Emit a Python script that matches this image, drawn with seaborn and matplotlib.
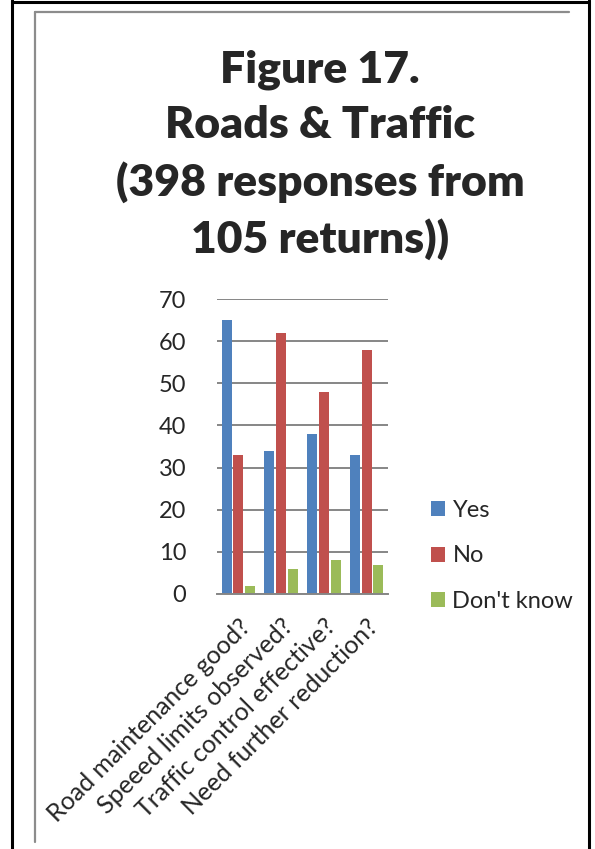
import pandas as pd
import matplotlib.pyplot as plt
import seaborn as sns
from matplotlib.lines import Line2D

# Data
questions = ["Road maintenance good?", "Speeed limits observed?",
             "Traffic control effective?", "Need further reduction?"]
answers = ["Yes", "No", "Don't know"]
yes_vals = [65, 34, 38, 33]
no_vals = [33, 62, 48, 58]
dont_know_vals = [2, 6, 8, 7]
colors = ["#4F81BD", "#C0504D", "#9BBB59"]

df = pd.DataFrame({
    "question": questions * 3,
    "answer": [a for a in answers for _ in questions],
    "count": yes_vals + no_vals + dont_know_vals,
})

sns.set_style("white")
plt.rcParams["font.family"] = ["Lato", "DejaVu Sans"]

fig = plt.figure(figsize=(5.95, 8.49), dpi=100)
W, H = 595, 849

# Page frame: black outer lines and grey inner chart border
def px_line(x0, y0, x1, y1, color, lw):
    fig.add_artist(Line2D([x0 / W, x1 / W], [1 - y0 / H, 1 - y1 / H],
                          color=color, lw=lw, transform=fig.transFigure,
                          zorder=10))

ax = fig.add_axes([217 / W, 1 - 594 / H, (388 - 217) / W, (594 - 299) / H])
sns.barplot(data=df, x="question", y="count", hue="answer", palette=colors,
            width=0.82, gap=0.15, linewidth=0, saturation=1, ax=ax)

ax.set_ylim(0, 70)
ax.set_yticks(range(0, 71, 10))
ax.yaxis.grid(True, color="#868686", lw=1.4)
ax.set_axisbelow(True)
for s in ["top", "right", "left"]:
    ax.spines[s].set_visible(False)
ax.spines["bottom"].set_color("#868686")
ax.spines["bottom"].set_linewidth(1.4)
ax.tick_params(axis="y", length=0, pad=22, labelsize=17)
ax.tick_params(axis="x", length=0, pad=15, labelsize=18)
ax.set_xlabel("")
ax.set_ylabel("")
plt.setp(ax.get_xticklabels(), rotation=45, ha="right", va="top",
         rotation_mode="anchor")

leg = ax.legend(loc="center left", bbox_to_anchor=(410 / W, 1 - 556 / H),
                bbox_transform=fig.transFigure, frameon=False, fontsize=17,
                handlelength=0.6, handleheight=0.6, handletextpad=0.3,
                labelspacing=1.05)

fig.text(320 / W, 1 - 155 / H,
         "Figure 17.\nRoads & Traffic\n(398 responses from\n105 returns))",
         ha="center", va="center", fontsize=32, fontweight="heavy",
         linespacing=1.45)

px_line(12, 0, 12, H, "black", 2.2)
px_line(589, 0, 589, H, "black", 2.2)
px_line(12, 2, 589, 2, "black", 2.2)
px_line(35, 12, 35, 842, "#8c8c8c", 1.6)
px_line(35, 12, 569, 12, "#8c8c8c", 1.6)

fig.savefig("out.png", dpi=100)
